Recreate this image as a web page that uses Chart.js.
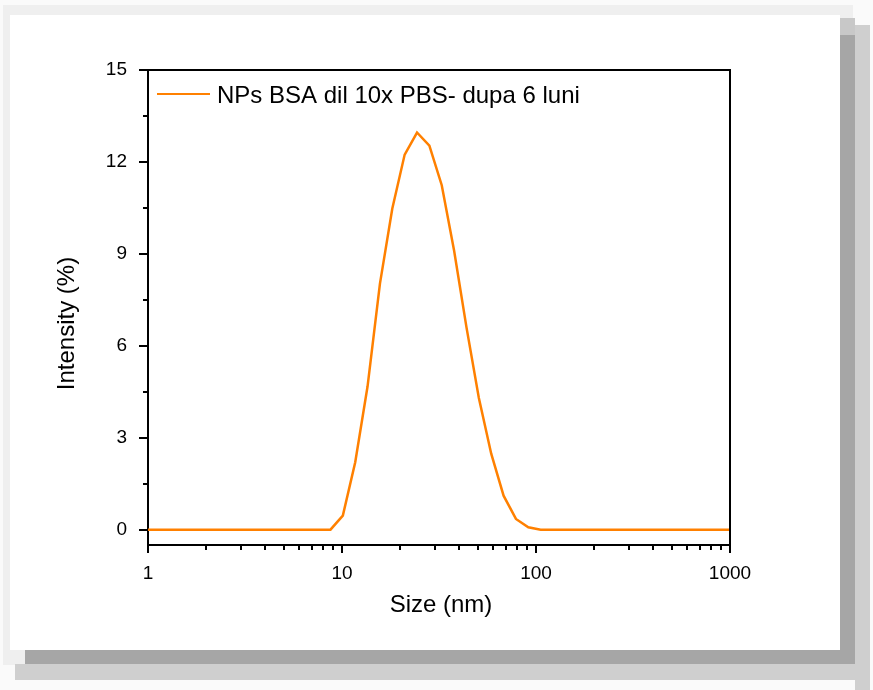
<!DOCTYPE html>
<html>
<head>
<meta charset="utf-8">
<script src="https://cdn.jsdelivr.net/npm/chart.js@4"></script>
<style>
  html, body { margin: 0; padding: 0; background: #fff; }
  #page { position: relative; width: 873px; height: 690px; overflow: hidden; background: #fafafa; }
  .band { position: absolute; }
  #chart { position: absolute; left: 0; top: 0; }
</style>
</head>
<body>
<div id="page">
  <!-- marco con sombra -->
  <div class="band" style="left:3px;top:5px;width:850px;height:660px;background:#efefef"></div>
  <div class="band" style="left:855px;top:25px;width:15px;height:665px;background:#cfcfcf"></div>
  <div class="band" style="left:15px;top:664px;width:855px;height:16px;background:#cfcfcf"></div>
  <div class="band" style="left:840px;top:35px;width:15px;height:629px;background:#a6a6a6"></div>
  <div class="band" style="left:840px;top:18px;width:15px;height:17px;background:#c8c8c8"></div>
  <div class="band" style="left:25px;top:650px;width:830px;height:14px;background:#a6a6a6"></div>
  <div class="band" style="left:10px;top:15px;width:830px;height:635px;background:#ffffff"></div>
  <canvas id="chart" width="873" height="690"></canvas>
</div>
<script>
// Tamaños (nm) de los canales del equipo
const sizes = [0.9649, 1.117, 1.294, 1.499, 1.736, 2.01, 2.328, 2.696, 3.122, 3.615,
  4.187, 4.849, 5.615, 6.503, 7.531, 8.721, 10.1, 11.7, 13.54, 15.69, 18.17, 21.04,
  24.36, 28.21, 32.67, 37.84, 43.82, 50.75, 58.77, 68.06, 78.82, 91.28, 105.7, 122.4,
  141.8, 164.2, 190.1, 220.2, 255, 295.3, 342, 396.1, 458.7, 531.2, 615.1, 712.4,
  825, 955.4, 1106];

// Intensidad (%)
const intensity = [0, 0, 0, 0, 0, 0, 0, 0, 0, 0,
  0, 0, 0, 0, 0, 0, 0.46, 2.2, 4.67, 8.03, 10.48, 12.24,
  12.96, 12.53, 11.24, 9.1, 6.6, 4.3, 2.48, 1.11, 0.35, 0.08, 0, 0,
  0, 0, 0, 0, 0, 0, 0, 0, 0, 0, 0, 0,
  0, 0, 0];

const xMajor = [1, 10, 100, 1000];
const xMinor = [2, 3, 4, 5, 6, 7, 8, 9, 20, 30, 40, 50, 60, 70, 80, 90, 200, 300, 400, 500, 600, 700, 800, 900];
const yMajor = [0, 3, 6, 9, 12, 15];
const yMinor = [1.5, 4.5, 7.5, 10.5, 13.5];

const seriesLabel = 'NPs BSA dil 10x PBS- dupa 6 luni';
const lineColor = '#ff8000';
const fontFamily = '"Liberation Sans", Arial, sans-serif';

// Plugin para marcas, marco, títulos y leyenda
const decorations = {
  id: 'decorations',
  afterDraw(chart) {
    const c = chart.ctx;
    const area = chart.chartArea;
    const xs = chart.scales.x;
    const ys = chart.scales.y;
    c.save();
    c.strokeStyle = '#000';
    c.lineWidth = 2;
    // marco superior y derecho
    c.beginPath();
    c.moveTo(area.left, area.top);
    c.lineTo(area.right, area.top);
    c.lineTo(area.right, area.bottom);
    c.stroke();

    // marcas del eje x
    c.beginPath();
    xMajor.forEach(v => {
      const px = Math.round(xs.getPixelForValue(v));
      c.moveTo(px, area.bottom);
      c.lineTo(px, area.bottom + 8);
    });
    xMinor.forEach(v => {
      const px = Math.round(xs.getPixelForValue(v));
      c.moveTo(px, area.bottom);
      c.lineTo(px, area.bottom + 5);
    });
    // marcas del eje y
    yMajor.forEach(v => {
      const py = Math.round(ys.getPixelForValue(v));
      c.moveTo(area.left, py);
      c.lineTo(area.left - 9, py);
    });
    yMinor.forEach(v => {
      const py = Math.round(ys.getPixelForValue(v));
      c.moveTo(area.left, py);
      c.lineTo(area.left - 5, py);
    });
    c.stroke();

    // títulos de ejes
    c.fillStyle = '#000';
    c.font = '24px ' + fontFamily;
    c.textAlign = 'center';
    c.textBaseline = 'middle';
    c.fillText('Size (nm)', (area.left + area.right) / 2 + 2, 605);
    c.save();
    c.translate(67, (area.top + area.bottom) / 2 + 16);
    c.rotate(-Math.PI / 2);
    c.fillText('Intensity (%)', 0, 0);
    c.restore();

    // leyenda
    const ds = chart.data.datasets[0];
    c.strokeStyle = ds.borderColor;
    c.lineWidth = 2;
    c.beginPath();
    c.moveTo(area.left + 9, 94);
    c.lineTo(area.left + 62, 94);
    c.stroke();
    c.textAlign = 'left';
    c.fillText(ds.label, area.left + 69, 96);
    c.restore();
  }
};

new Chart(document.getElementById('chart'), {
  type: 'line',
  data: {
    datasets: [{
      label: seriesLabel,
      data: sizes.map((s, i) => ({ x: s, y: intensity[i] })),
      borderColor: lineColor,
      borderWidth: 2.5,
      pointRadius: 0,
      tension: 0,
      fill: false
    }]
  },
  options: {
    responsive: false,
    animation: false,
    layout: { padding: { left: 0, top: 70, right: 143, bottom: 0 } },
    plugins: { legend: { display: false }, tooltip: { enabled: false } },
    scales: {
      x: {
        type: 'logarithmic',
        min: 1,
        max: 1000,
        afterBuildTicks: s => { s.ticks = xMajor.map(v => ({ value: v, major: true })); },
        afterFit: s => { s.height = 145; },
        grid: { display: false },
        border: { display: true, color: '#000', width: 2 },
        ticks: {
          padding: 9,
          color: '#000',
          maxRotation: 0,
          autoSkip: false,
          font: { family: fontFamily, size: 19 },
          callback: v => String(v)
        }
      },
      y: {
        min: -0.5,
        max: 15,
        afterBuildTicks: s => { s.ticks = yMajor.map(v => ({ value: v })); },
        afterFit: s => { s.width = 148; },
        grid: { display: false },
        border: { display: true, color: '#000', width: 2 },
        ticks: {
          padding: 13,
          color: '#000',
          font: { family: fontFamily, size: 19 },
          callback: v => String(v)
        }
      }
    }
  },
  plugins: [decorations]
});
</script>
</body>
</html>
